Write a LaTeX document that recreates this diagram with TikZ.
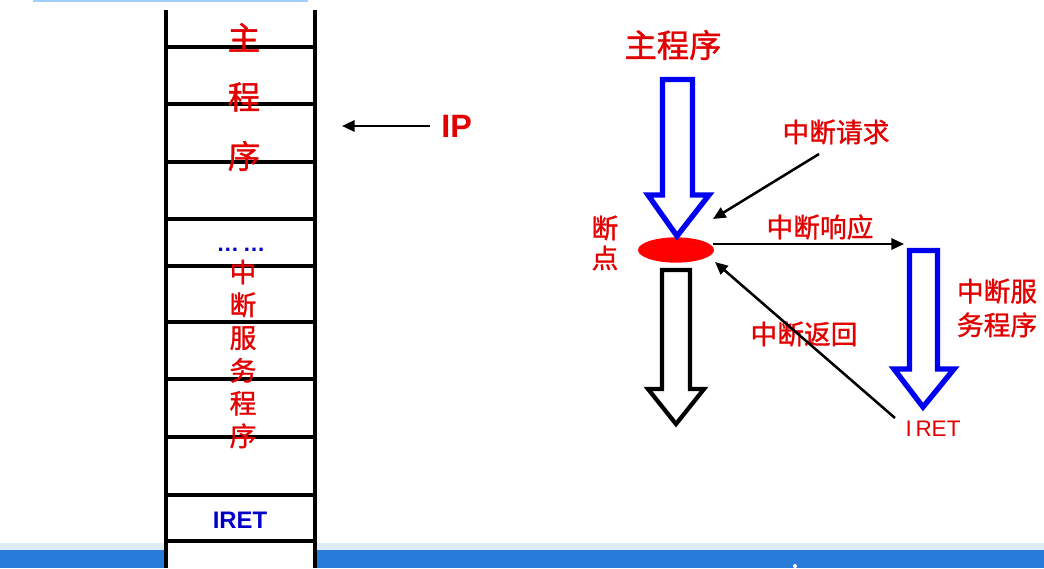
\documentclass[tikz,border=0pt]{standalone}
\usepackage{fontspec}
\setmainfont{Liberation Sans}
\newfontfamily\cjk[FakeBold=1.2]{Noto Sans CJK SC}
\usetikzlibrary{arrows.meta,shapes.geometric}
\definecolor{txtred}{RGB}{226,0,0}
\definecolor{txtblue}{RGB}{0,0,200}
\definecolor{arrblue}{RGB}{0,0,240}
\definecolor{barblue}{RGB}{40,123,217}
\definecolor{barlight}{RGB}{224,235,248}
\definecolor{toplight}{RGB}{160,207,255}

\begin{document}
\begin{tikzpicture}[
x=0.025cm,y=-0.025cm,
cn/.style={font=\cjk\fontsize{19}{19}\selectfont,text=txtred,inner sep=0pt},
bigcn/.style={font=\cjk\fontsize{23}{23}\selectfont,text=txtred,inner sep=0pt},
latin/.style={inner sep=0pt},
cell/.style={line width=2.2pt},
arrow/.style={-{Triangle[length=9pt,width=8pt]},line width=1.8pt},
hollowblue/.style={draw=arrblue,fill=white,line width=3.8pt,line join=miter},
hollowblack/.style={draw=black,fill=white,line width=3pt,line join=miter} ]

\useasboundingbox (0,0) rectangle (1044,568);

% window strips
\fill[toplight] (33,0) rectangle (308,1.5);
\fill[barlight] (0,543) rectangle (1044,550);
\fill[barblue] (0,550) rectangle (1044,568);
\fill[white] (795,566) circle (2);

% memory stack
\fill[white] (166,10) rectangle (315,568);
\draw[cell] (166,10) -- (166,568);
\draw[cell] (315,10) -- (315,568);
\draw[cell] (166,47) -- (315,47);
\draw[cell] (166,104) -- (315,104);
\draw[cell] (166,162) -- (315,162);
\draw[cell] (166,219) -- (315,219);
\draw[cell] (166,266) -- (315,266);
\draw[cell] (166,322) -- (315,322);
\draw[cell] (166,379) -- (315,379);
\draw[cell] (166,437) -- (315,437);
\draw[cell] (166,495) -- (315,495);
\draw[cell] (166,541) -- (315,541);

\node[cn,font=\cjk\fontsize{23}{42}\selectfont,align=center] (mainL) at (244,97) {主\\程\\序};
\node[latin,font=\bfseries\fontsize{16}{16}\selectfont,text=txtblue] (dots) at (241,250) {…\,…};
\node[cn,font=\cjk\fontsize{19}{23.3}\selectfont,align=center] (isrL) at (243,354) {中\\断\\服\\务\\程\\序};
\node[latin,font=\bfseries\fontsize{17}{17}\selectfont,text=txtblue] (iretL) at (240,520) {IRET};

% instruction pointer
\node[latin,font=\bfseries\fontsize{23}{23}\selectfont,text=txtred,anchor=west] (IP) at (441,126) {IP};
\coordinate (ipTip) at (342,126);
\draw[arrow,shorten <=8pt] (IP) -- (ipTip);

% program flow
\node[bigcn] (main) at (673,45) {主程序};
\node[cn] (bp1) at (605,228) {断};
\node[cn] (bp2) at (605,258) {点};
\node[cn] (req) at (836,132) {中断请求};
\node[cn] (resp) at (820,227) {中断响应};
\node[cn,align=center,font=\cjk\fontsize{19}{24}\selectfont] (isr) at (997,308) {中断服\\务程序};
\node[cn] (ret) at (804,334) {中断返回};
\node[latin,font=\fontsize{16}{16}\selectfont,text=txtred] (iretR) at (933,429) {I\,RET};

\node[ellipse,fill=red,minimum width=54pt,minimum height=18pt,inner sep=0pt] (bp) at (676,250) {};

\draw[hollowblue] (662.5,79.5) -- (692.5,79.5) -- (692.5,195) -- (709,195) -- (677,236)
  -- (648,195) -- (662.5,195) -- cycle;
\draw[hollowblack] (662,270) -- (690,270) -- (690,389) -- (704,389) -- (676,424)
  -- (648,389) -- (662,389) -- cycle;
\draw[hollowblue] (909.5,250.5) -- (937.5,250.5) -- (937.5,369) -- (954,369) -- (923,407)
  -- (894,369) -- (909.5,369) -- cycle;

\coordinate (reqTail) at (819,154);
\coordinate (reqTip) at (713,219);
\coordinate (respTail) at (713,244);
\coordinate (respTip) at (904,244);
\coordinate (retTail) at (895,418);
\coordinate (retTip) at (715,262);

\draw[arrow] (reqTail) -- (reqTip);
\draw[arrow] (respTail) -- (respTip);
\draw[arrow] (retTail) -- (retTip);

\end{tikzpicture}
\end{document}
